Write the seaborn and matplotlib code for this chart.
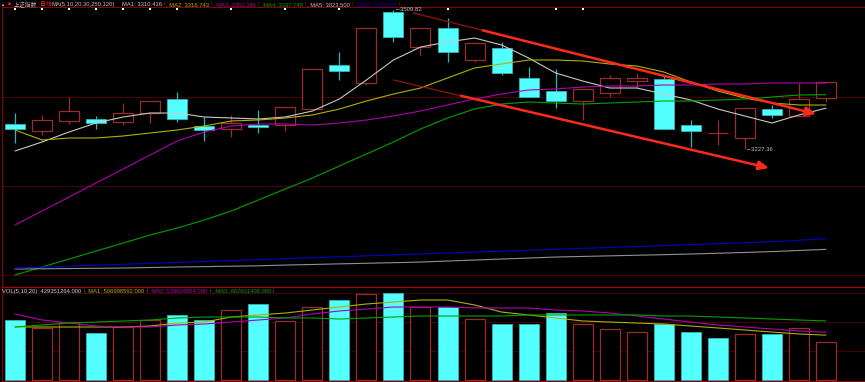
import numpy as np
import pandas as pd
import matplotlib
matplotlib.use('Agg')
import matplotlib.pyplot as plt
import matplotlib.transforms as mtransforms
import seaborn as sns

# 上证指数 日线, 31 bars
opens = [3278, 3264, 3284, 3288, 3282, 3300, 3329, 3274, 3268, 3276, 3276, 3309, 3398, 3361, 3506, 3435,
         3473, 3408, 3433, 3372, 3345, 3325, 3341, 3366, 3370, 3276, 3260, 3250, 3309, 3294, 3331]
highs = [3300, 3296, 3333, 3294, 3321, 3325, 3343, 3292, 3296, 3307, 3313, 3390, 3424, 3473, 3509.82, 3473,
         3494, 3445, 3445, 3394, 3390, 3349, 3378, 3382, 3376, 3286, 3286, 3311, 3317, 3361, 3364]
lows = [3240, 3256, 3278, 3268, 3276, 3280, 3282, 3244, 3252, 3260, 3264, 3309, 3368, 3357, 3445, 3418,
        3404, 3404, 3378, 3333, 3311, 3286, 3333, 3351, 3268, 3231, 3236, 3227.36, 3290, 3294, 3323]
closes = [3268, 3286, 3305, 3280, 3300, 3325, 3288, 3266, 3280, 3272, 3313, 3390, 3386, 3473, 3455, 3473,
          3424, 3443, 3382, 3333, 3325, 3349, 3372, 3372, 3268, 3264, 3260, 3311, 3297, 3329, 3364]

# moving averages as drawn (MA1..MA6)
ma1 = [3223.3, 3241.6, 3261.9, 3280.2, 3292.4, 3300.5, 3300.5, 3292.4, 3290.4, 3288.3, 3292.4, 3304.6, 3329.0,
       3367.6, 3408.2, 3434.6, 3444.8, 3452.9, 3438.7, 3412.3, 3381.8, 3365.5, 3351.3, 3351.3, 3339.1, 3326.9,
       3308.6, 3294.4, 3280.2, 3296.5, 3310.4]
ma2 = [3266.0, 3245.7, 3249.7, 3249.7, 3253.8, 3259.9, 3266.0, 3274.1, 3284.3, 3286.3, 3290.4, 3296.5, 3308.6,
       3324.9, 3339.1, 3351.3, 3371.6, 3392.0, 3400.1, 3408.2, 3408.2, 3406.2, 3400.1, 3396.0, 3383.8, 3363.5,
       3345.2, 3331.0, 3320.8, 3316.8, 3316.7]
ma3 = [3072.9, 3101.4, 3129.8, 3158.3, 3186.7, 3215.2, 3243.6, 3261.9, 3274.1, 3278.2, 3278.2, 3276.1, 3280.2,
       3286.3, 3294.4, 3304.6, 3316.8, 3329.0, 3339.1, 3347.3, 3349.3, 3353.3, 3355.4, 3355.4, 3357.4, 3357.4,
       3359.4, 3359.4, 3361.5, 3361.5, 3361.3]
ma4 = [2971.3, 2987.6, 3003.8, 3020.1, 3036.3, 3052.6, 3066.8, 3083.1, 3101.4, 3123.7, 3146.1, 3168.4, 3192.8,
       3217.2, 3241.6, 3268.0, 3290.3, 3308.6, 3318.8, 3322.9, 3320.8, 3318.8, 3320.8, 3322.9, 3324.9, 3324.9,
       3326.9, 3329.0, 3333.0, 3337.1, 3337.7]
ma5 = [2983.5, 2984.0, 2984.5, 2985.0, 2985.5, 2986.6, 2987.6, 2988.4, 2989.2, 2990.0, 2991.6, 2992.8, 2994.0,
       2995.2, 2996.4, 2997.7, 2999.8, 3001.8, 3003.8, 3005.8, 3007.9, 3009.1, 3010.3, 3011.5, 3012.7, 3014.0,
       3015.6, 3017.2, 3019.0, 3021.2, 3023.5]
ma6 = [2985.6, 2987.5, 2989.4, 2991.3, 2993.2, 2995.1, 2997.0, 2998.9, 3000.8, 3002.7, 3004.6, 3006.5, 3008.4,
       3010.3, 3012.2, 3014.1, 3016.0, 3017.9, 3019.8, 3021.7, 3023.6, 3025.5, 3027.4, 3029.3, 3031.2, 3033.1,
       3035.0, 3037.0, 3039.0, 3042.0, 3044.97]

# volume in millions of shares, with its MA(5,10,20)
vol = [678, 588, 655, 531, 599, 678, 735, 678, 791, 859, 667, 825, 904, 972, 983, 825,
       825, 689, 633, 633, 757, 633, 576, 542, 633, 542, 475, 520, 520, 588, 429.35]
vma1 = [599, 599, 599, 599, 599, 610, 644, 655, 712, 735, 757, 791, 825, 859, 881, 904,
        904, 848, 768, 735, 701, 667, 655, 644, 633, 610, 588, 565, 542, 520, 507.0]
vma2 = [746, 678, 644, 610, 599, 599, 622, 633, 655, 678, 701, 746, 780, 802, 825, 825,
        825, 814, 814, 814, 791, 780, 757, 723, 689, 655, 622, 599, 576, 554, 539.6]
vma3 = [599, 622, 644, 655, 667, 678, 701, 712, 712, 712, 701, 701, 689, 701, 712, 723,
        723, 723, 723, 735, 735, 735, 735, 735, 723, 723, 712, 701, 689, 678, 667.6]

# days with the little white info marks along the top
marker_days = [0, 1, 2, 3, 4, 5, 6, 8, 10, 12, 16, 20, 21]

price_grid = [3333.0, 3152.2, 2971.3]
vol_grid = [983, 655, 328]

ma_labels = ['MA1: 3310.416', 'MA2: 3316.743', 'MA3: 3361.346', 'MA4: 3337.748', 'MA5: 3023.500', 'MA6: 3044.968']
vol_labels = ['429351264.000', 'MA1: 506998592.000', 'MA2: 539604864.000', 'MA3: 667601408.000']

RED_EDGE = '#9a2c2c'
CYAN = '#54ffff'
CYAN_EDGE = '#2fb8b8'
GRID = '#4a0000'
BORDER = '#8a0000'
ma_colors = ['#c8c8c8', '#b0b000', '#b000b0', '#00a000', '#909090', '#0000c8']
vma_colors = ['#b0b000', '#b000b0', '#00a000']

sns.set_theme(style='dark', rc={'axes.facecolor': 'black', 'figure.facecolor': 'black',
                                'axes.edgecolor': BORDER, 'grid.color': GRID})
plt.rcParams['font.family'] = ['Liberation Sans', 'Noto Sans CJK SC', 'DejaVu Sans']

W, H = 865, 382
fig = plt.figure(figsize=(W / 100, H / 100), dpi=100, facecolor='black')


def box(left, top, right, bottom):
    return [left / W, 1 - bottom / H, (right - left) / W, (bottom - top) / H]


ax = fig.add_axes(box(2, 7, 866, 287))
axv = fig.add_axes(box(2, 287, 866, 381))

df = pd.DataFrame({'open': opens, 'high': highs, 'low': lows, 'close': closes, 'vol': vol})
df['x'] = np.arange(len(df))
up = df.close >= df.open
# a doji takes its volume colour from the previous close
vol_up = (df.close > df.open) | ((df.close == df.open) & (df.close >= df.close.shift(1)))
top = df[['open', 'close']].max(axis=1)
bot = df[['open', 'close']].min(axis=1)

# candles
ax.vlines(df.x[up], top[up], df.high[up], color=RED_EDGE, lw=0.9, zorder=2)
ax.vlines(df.x[up], df.low[up], bot[up], color=RED_EDGE, lw=0.9, zorder=2)
ax.vlines(df.x[~up], df.low[~up], df.high[~up], color=CYAN_EDGE, lw=0.9, zorder=2)
ax.bar(df.x[up], (top - bot)[up], bottom=bot[up], width=0.74, facecolor='black',
       edgecolor=RED_EDGE, lw=0.9, zorder=2)
ax.bar(df.x[~up], (top - bot)[~up], bottom=bot[~up], width=0.74, facecolor=CYAN,
       edgecolor=CYAN_EDGE, lw=0.6, zorder=2)

ma_df = pd.DataFrame({'x': df.x, 'MA1': ma1, 'MA2': ma2, 'MA3': ma3, 'MA4': ma4, 'MA5': ma5, 'MA6': ma6})
ma_long = ma_df.melt(id_vars='x', var_name='ma', value_name='price')
sns.lineplot(data=ma_long, x='x', y='price', hue='ma',
             palette=dict(zip(['MA1', 'MA2', 'MA3', 'MA4', 'MA5', 'MA6'], ma_colors)),
             legend=False, lw=0.8, ax=ax, zorder=3)

# hand-drawn trend channel
ax.plot([14.74, 17.3], [3503.7, 3468.5], color='#8c1010', lw=1.0, zorder=4)
ax.annotate('', xy=(29.63, 3298.5), xytext=(17.3, 3468.5),
            arrowprops=dict(arrowstyle='-|>,head_length=0.5,head_width=0.22', color='#ff2a1a',
                            lw=1.8, shrinkA=0, shrinkB=0), zorder=4)
ax.plot([14.0, 16.5], [3367.6, 3335.5], color='#8c1010', lw=1.0, zorder=4)
ax.annotate('', xy=(27.89, 3188.8), xytext=(16.5, 3335.5),
            arrowprops=dict(arrowstyle='-|>,head_length=0.5,head_width=0.22', color='#ff2a1a',
                            lw=1.8, shrinkA=0, shrinkB=0), zorder=4)

ax.text(14.05, 3509.82, '←' + f'{highs[14]:.2f}', fontsize=4.3, color='#c0c0c0', va='center', ha='left', zorder=5)
ax.text(27.05, 3227.36, '←' + f'{lows[27]:.2f}', fontsize=4.3, color='#c0c0c0', va='center', ha='left', zorder=5)

trans = mtransforms.blended_transform_factory(ax.transData, ax.transAxes)
ax.scatter(marker_days, [0.993] * len(marker_days), transform=trans, marker='s', s=2.5,
           color='white', lw=0, zorder=5, clip_on=False)

ax.set_xlim(-0.48, 31.48)
ax.set_ylim(2947.0, 3515.9)
ax.set_yticks(price_grid)
ax.grid(axis='y', color=GRID, lw=0.7)
ax.grid(axis='x', visible=False)

# volume
axv.bar(df.x[vol_up], df.vol[vol_up], width=0.74, facecolor='black', edgecolor=RED_EDGE, lw=0.9, zorder=2)
axv.bar(df.x[~vol_up], df.vol[~vol_up], width=0.74, facecolor=CYAN, edgecolor=CYAN_EDGE, lw=0.6, zorder=2)
vma_df = pd.DataFrame({'x': df.x, 'MA1': vma1, 'MA2': vma2, 'MA3': vma3})
vma_long = vma_df.melt(id_vars='x', var_name='ma', value_name='v')
sns.lineplot(data=vma_long, x='x', y='v', hue='ma', palette=dict(zip(['MA1', 'MA2', 'MA3'], vma_colors)),
             legend=False, lw=0.8, ax=axv, zorder=3)
axv.set_xlim(-0.48, 31.48)
axv.set_ylim(-11.3, 1051)
axv.set_yticks(vol_grid)
axv.grid(axis='y', color=GRID, lw=0.7)
axv.grid(axis='x', visible=False)

for a in (ax, axv):
    a.set_xlabel('')
    a.set_ylabel('')
    a.set_xticks([])
    a.tick_params(left=False, labelleft=False, bottom=False, labelbottom=False)
    for side in ('left', 'top', 'bottom'):
        a.spines[side].set_color(BORDER)
        a.spines[side].set_linewidth(0.8)
    a.spines['right'].set_visible(False)
axv.spines['top'].set_color('#b00000')

renderer = fig.canvas.get_renderer()


def ftext(px, py, s, color, size=4.2):
    return fig.text(px / W, 1 - py / H, s, color=color, fontsize=size, ha='left', va='center')


def run_text(px, py, pieces, size=4.2, gap=0.5):
    # lay the pieces one after another, like the status line of the terminal
    x = px
    for s, col in pieces:
        t = ftext(x, py, s, col, size)
        x = t.get_window_extent(renderer).x1 + gap


# header of the price panel
ftext(2, 5, '▪', 'white')
ftext(8, 3.5, '■', '#ff2020', size=3.5)
run_text(14, 4.5, [('上证指数', '#b8b8b8'), ('日线', '#ff3030')], gap=2.5)
ftext(51, 4.5, 'MA(5,10,20,30,250,120)', '#c0c0c0')
pieces = []
for i, (lab, col) in enumerate(zip(ma_labels, ma_colors)):
    pieces.append((('' if i == 0 else ', ') + lab, col if i != 4 else '#c0c0c0'))
    pieces.append(('↑', '#ff2020'))
run_text(122, 4.5, pieces)

# header of the volume panel
pieces = [('VOL(5,10,20)  ' + vol_labels[0], '#d0d0d0'), ('↓', '#40d040')]
for i, col in enumerate(vma_colors):
    pieces.append((', ' + vol_labels[i + 1], col))
    pieces.append(('↓', '#40d040'))
run_text(2, 291, pieces)

fig.savefig('out.png', dpi=100, facecolor='black')
